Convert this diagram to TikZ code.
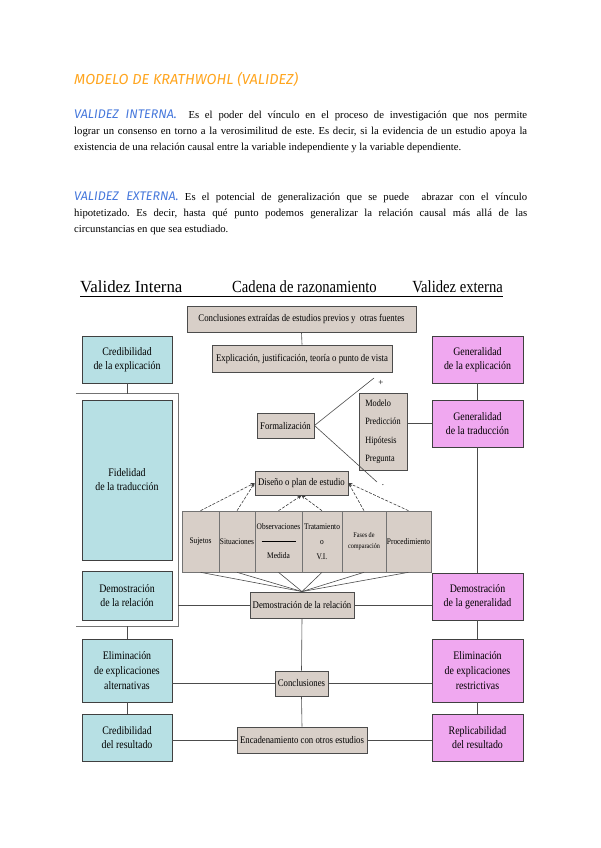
\documentclass[tikz,border=0pt]{standalone}
\usepackage{fontspec}
\setmainfont{Liberation Serif}
\newfontfamily\cond[FakeStretch=0.86]{Liberation Serif}
\newfontfamily\hand{Fira Sans}
\usetikzlibrary{arrows.meta,calc}
\definecolor{cyanbox}{RGB}{183,224,228}
\definecolor{pinkbox}{RGB}{240,168,240}
\definecolor{taupe}{RGB}{216,207,200}
\definecolor{titleor}{RGB}{255,165,30}
\definecolor{handblue}{RGB}{70,120,220}
\frenchspacing
\tikzset{
  para/.style={anchor=north west, inner sep=0pt, text width=453pt, align=justify,
    font=\frenchspacing\fontsize{10.7}{15.7}\selectfont},
  hdr/.style={inner sep=0pt, font=\cond\fontsize{17}{18}\selectfont},
  cbox/.style={fill=cyanbox, draw=black!75, line width=0.9pt, inner sep=0pt, align=center,
    minimum width=90pt, font=\cond\fontsize{11.5}{14}\selectfont},
  pbox/.style={fill=pinkbox, draw=black!75, line width=0.9pt, inner sep=0pt, align=center,
    minimum width=91pt, font=\cond\fontsize{11.5}{14}\selectfont},
  gbox/.style={fill=taupe, draw=black!70, line width=0.9pt, inner sep=0pt, align=center,
    font=\cond\fontsize{10.2}{12}\selectfont},
  sbox/.style={fill=taupe, draw=black!55, line width=0.6pt, inner sep=0pt, align=center,
    minimum height=61pt, font=\cond\fontsize{8.6}{10}\selectfont},
  conn/.style={draw=black!70, line width=0.6pt},
  darr/.style={draw=black!75, line width=0.6pt, dashed, dash pattern=on 3pt off 1.5pt, -{Stealth[length=4pt,width=3.5pt]}},
  panelline/.style={draw=black!55, line width=0.8pt}
}
\begin{document}
\begin{tikzpicture}[x=1pt,y=-1pt]
\fill[white] (0,0) rectangle (600,848);
\useasboundingbox (0,0) rectangle (600,848);

% ---------- text part ----------
\node[anchor=base west, text=titleor, inner sep=0pt,
  font=\hand\itshape\fontsize{14.5}{16}\selectfont] (title) at (74,85) {MODELO DE KRATHWOHL (VALIDEZ)};

\node[para] (p1) at (74,110) {{\hand\itshape\color{handblue}\fontsize{12.5}{13}\selectfont VALIDEZ INTERNA.}\ \ Es el poder del vínculo en el proceso de investigación que nos permite\linebreak
lograr un consenso en torno a la verosimilitud de este. Es decir, si la evidencia de un estudio apoya la\linebreak
existencia de una relación causal entre la variable independiente y la variable dependiente.};

\node[para] (p2) at (74,192) {{\hand\itshape\color{handblue}\fontsize{12.5}{13}\selectfont VALIDEZ EXTERNA.}\ Es el potencial de generalización que se puede \ abrazar con el vínculo\linebreak
hipotetizado. Es decir, hasta qué punto podemos generalizar la relación causal más allá de las\linebreak
circunstancias en que sea estudiado.};

% ---------- header ----------
\node[hdr, anchor=base west] (hint) at (80,292) {\scalebox{1.15}[1]{Validez Interna}};
\node[hdr, anchor=base west] (hcad) at (232,292) {Cadena de razonamiento};
\node[hdr, anchor=base east] (hext) at (503,292) {Validez externa};
\coordinate (ul) at (80,296);
\coordinate (ur) at (503,296);
\draw[line width=0.8pt] (ul) -- (ur);

% ---------- left column ----------
\node[minimum width=102pt, minimum height=232pt, inner sep=0pt] (panel) at (127,510) {};
\draw[panelline] (panel.north west) -- (panel.north east) -- (panel.south east) -- (panel.south west);

\node[cbox, minimum height=47pt] (cred1) at (127,359.5) {Credibilidad\\de la explicación};
\node[cbox, minimum height=160pt] (fid) at (127,480) {Fidelidad\\de la traducción};
\node[cbox, minimum height=49pt] (dem1) at (127,595.5) {Demostración\\de la relación};
\node[cbox, minimum height=63pt, font=\cond\fontsize{11.5}{15}\selectfont] (elim1) at (127,670.5) {Eliminación\\de explicaciones\\alternativas};
\node[cbox, minimum height=47pt] (cred2) at (127,737.5) {Credibilidad\\del resultado};

% ---------- right column ----------
\node[pbox, minimum height=47pt] (gen1) at (477.5,359.5) {Generalidad\\de la explicación};
\node[pbox, minimum height=47pt] (gen2) at (477.5,423.5) {Generalidad\\de la traducción};
\node[pbox, minimum height=47pt] (dem2) at (477.5,596.5) {Demostración\\de la generalidad};
\node[pbox, minimum height=63pt, font=\cond\fontsize{11.5}{15}\selectfont] (elim2) at (477.5,670.5) {Eliminación\\de explicaciones\\restrictivas};
\node[pbox, minimum height=47pt] (rep) at (477.5,737.5) {Replicabilidad\\del resultado};

% ---------- center column ----------
\node[gbox, minimum width=229pt, minimum height=26pt] (concl0) at (301.5,319) {Conclusiones extraídas de estudios previos y \ otras fuentes};
\node[gbox, minimum width=180pt, minimum height=27pt] (expl) at (302,358.5) {Explicación, justificación, teoría o punto de vista};
\node[gbox, minimum width=57pt, minimum height=25pt] (form) at (285.5,425.5) {Formalización};
\node[gbox, minimum width=48pt, minimum height=77pt, align=left,
  font=\cond\fontsize{9.6}{18.5}\selectfont] (model) at (383,431.5) {Modelo\\Predicción\\Hipótesis\\Pregunta};
\node[gbox, minimum width=93pt, minimum height=24pt] (dis) at (301.5,483) {Diseño o plan de estudio};

\node[sbox, minimum width=37pt] (suj) at (200.5,541.5) {Sujetos};
\node[sbox, minimum width=36pt] (sit) at (237,541.5) {Situaciones};
\node[sbox, minimum width=47pt, font=\cond\fontsize{8.6}{14.5}\selectfont] (obs) at (278.5,541.5) {Observaciones\\\rule[2.5pt]{34pt}{0.6pt}\\Medida};
\node[sbox, minimum width=40pt, font=\cond\fontsize{8.6}{15}\selectfont] (trat) at (322,541.5) {Tratamiento\\o\\V.I.};
\node[sbox, minimum width=44pt, font=\cond\fontsize{7.2}{11}\selectfont] (fases) at (364,541.5) {Fases de\\comparación};
\node[sbox, minimum width=45pt] (proc) at (408.5,541.5) {Procedimiento};

\node[gbox, minimum width=104pt, minimum height=26pt] (demc) at (302,605) {Demostración de la relación};
\node[gbox, minimum width=53pt, minimum height=25pt] (concl) at (301.5,683.5) {Conclusiones};
\node[gbox, minimum width=130pt, minimum height=26pt] (enc) at (302,740) {Encadenamiento con otros estudios};

% plus / dot marks
\coordinate (ftop) at (374,378);
\coordinate (fbot) at (377,482);
\node[inner sep=0pt, font=\fontsize{9}{10}\selectfont] (plus) at (381,383) {+};
\node[inner sep=0pt, font=\fontsize{9}{10}\selectfont] (dot) at (383,485) {.};

% ---------- connectors ----------
\draw[conn] (cred1.south) -- (panel.north);
\draw[conn] (panel.south) -- (elim1.north);
\draw[conn] (elim1.south) -- (cred2.north);
\draw[conn] (gen1.south) -- (gen2.north);
\draw[conn] (gen2.south) -- (dem2.north);
\draw[conn] (dem2.south) -- (elim2.north);
\draw[conn] (elim2.south) -- (rep.north);
\draw[conn] (concl0.south) -- (expl.north);
\draw[conn] (demc.south) -- (concl.north);
\draw[conn] (concl.south) -- (enc.north);
\draw[conn] (panel.east |- demc.west) -- (demc.west);
\draw[conn] (demc.east) -- (demc.east -| dem2.west);
\draw[conn] (concl.west -| elim1.east) -- (concl.west);
\draw[conn] (concl.east) -- (concl.east -| elim2.west);
\draw[conn] (enc.west -| cred2.east) -- (enc.west);
\draw[conn] (enc.east) -- (enc.east -| rep.west);
\draw[conn, line width=0.8pt] (gen2.west -| model.east) -- (gen2.west);
\draw[conn] (form.east) -- (ftop);
\draw[conn] (form.east) -- (fbot);

\draw[darr] (suj.north) -- (dis.west);
\draw[darr] (sit.north) -- (dis.west);
\draw[darr] (obs.north) -- (dis.south);
\draw[darr] (trat.north) -- (dis.south);
\draw[darr] (fases.north) -- (dis.east);
\draw[darr] (proc.north) -- (dis.east);

\foreach \n in {suj,sit,obs,trat,fases,proc}
  \draw[conn] (\n.south) -- (demc.north);
\end{tikzpicture}
\end{document}
